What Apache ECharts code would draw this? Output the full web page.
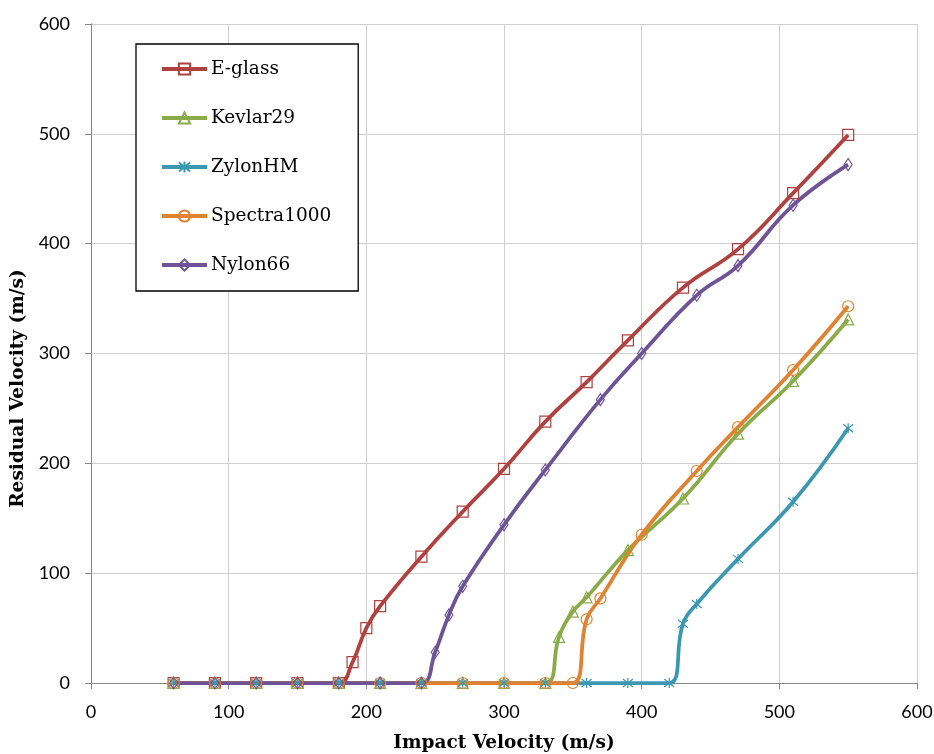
<!DOCTYPE html>
<html>
<head>
<meta charset="utf-8">
<script src="https://cdn.jsdelivr.net/npm/echarts@6/dist/echarts.min.js"></script>
<style>html,body{margin:0;padding:0;background:#fff;}#c{width:934px;height:754px;}</style>
</head>
<body>
<div id="c"></div>
<script>
const seriesNames = ['E-glass', 'Kevlar29', 'ZylonHM', 'Spectra1000', 'Nylon66'];
const eglassX = [60, 90, 120, 150, 180, 190, 200, 210, 240, 270, 300, 330, 360, 390, 430, 470, 510, 550];
const eglassY = [0, 0, 0, 0, 0, 19, 50, 70, 115, 156, 195, 238, 274, 312, 360, 395, 446, 499];
const kevlarX = [60, 90, 120, 150, 180, 210, 240, 270, 300, 330, 340, 350, 360, 390, 430, 470, 510, 550];
const kevlarY = [0, 0, 0, 0, 0, 0, 0, 0, 0, 0, 42, 65, 78, 121, 168, 227, 275, 331];
const zylonX = [60, 90, 120, 150, 180, 210, 240, 270, 300, 330, 360, 390, 420, 430, 440, 470, 510, 550];
const zylonY = [0, 0, 0, 0, 0, 0, 0, 0, 0, 0, 0, 0, 0, 54, 72, 113, 165, 232];
const spectraX = [60, 90, 120, 150, 180, 210, 240, 270, 300, 330, 350, 360, 370, 400, 440, 470, 510, 550];
const spectraY = [0, 0, 0, 0, 0, 0, 0, 0, 0, 0, 0, 58, 77, 135, 193, 233, 285, 343];
const nylonX = [60, 90, 120, 150, 180, 210, 240, 250, 260, 270, 300, 330, 370, 400, 440, 470, 510, 550];
const nylonY = [0, 0, 0, 0, 0, 0, 0, 28, 62, 88, 144, 194, 258, 300, 353, 380, 435, 472];
const axisTicks = [0, 100, 200, 300, 400, 500, 600];

const colors = ['#B0413E', '#8AAC48', '#3C98B2', '#E0822F', '#6E5496'];
const asterisk = 'path://M5,0L5,10M1,1L9,9M9,1L1,9';
const symbols = ['rect', 'triangle', asterisk, 'circle', 'diamond'];
const symbolSizes = [11, 11, 10, 11, [8, 12]];
const xs = [eglassX, kevlarX, zylonX, spectraX, nylonX];
const ys = [eglassY, kevlarY, zylonY, spectraY, nylonY];

const chart = echarts.init(document.getElementById('c'), null, {renderer: 'canvas'});
const axisCommon = {
  type: 'value', min: axisTicks[0], max: axisTicks[axisTicks.length - 1], interval: 100,
  axisLine: {show: true, lineStyle: {color: '#868686', width: 1}},
  axisTick: {show: true, inside: false, length: 6, lineStyle: {color: '#868686'}},
  splitLine: {show: true, lineStyle: {color: '#cfcfcf', width: 1}},
  axisLabel: {color: '#000', fontFamily: 'Lato', fontSize: 18},
  nameLocation: 'middle'
};
chart.setOption({
  animation: false,
  backgroundColor: '#fff',
  grid: {left: 91, right: 17, top: 24, bottom: 71, containLabel: false, outerBoundsMode: 'none'},
  xAxis: Object.assign({}, axisCommon, {
    name: 'Impact Velocity (m/s)', nameGap: 51,
    nameTextStyle: {color: '#000', fontFamily: 'DejaVu Serif', fontWeight: 'bold', fontSize: 18.5, verticalAlign: 'top'},
    axisLabel: Object.assign({}, axisCommon.axisLabel, {margin: 20})
  }),
  yAxis: Object.assign({}, axisCommon, {
    name: 'Residual Velocity (m/s)', nameGap: 60,
    nameTextStyle: {color: '#000', fontFamily: 'DejaVu Serif', fontWeight: 'bold', fontSize: 18.5, padding: [0, 70, 0, 0]},
    axisLabel: Object.assign({}, axisCommon.axisLabel, {margin: 21})
  }),
  legend: {
    orient: 'vertical', left: 136, top: 44,
    data: seriesNames,
    itemWidth: 45, itemHeight: 14, itemGap: 29,
    padding: [15, 27, 16, 24],
    borderColor: '#000', borderWidth: 1.3,
    backgroundColor: '#fff',
    lineStyle: {width: 4},
    textStyle: {color: '#000', fontFamily: 'DejaVu Serif', fontSize: 18.5, lineHeight: 20, padding: [0, 0, 0, -1]}
  },
  series: seriesNames.map((n, i) => ({
    name: n, type: 'line',
    data: xs[i].map((x, j) => [x, ys[i][j]]),
    smooth: 0.45,
    symbol: symbols[i], symbolSize: symbolSizes[i], showAllSymbol: true,
    color: colors[i],
    lineStyle: {color: colors[i], width: 3.75},
    itemStyle: {color: 'rgba(255,255,255,0)', borderColor: colors[i], borderWidth: 1.2}
  }))
});
</script>
</body>
</html>
